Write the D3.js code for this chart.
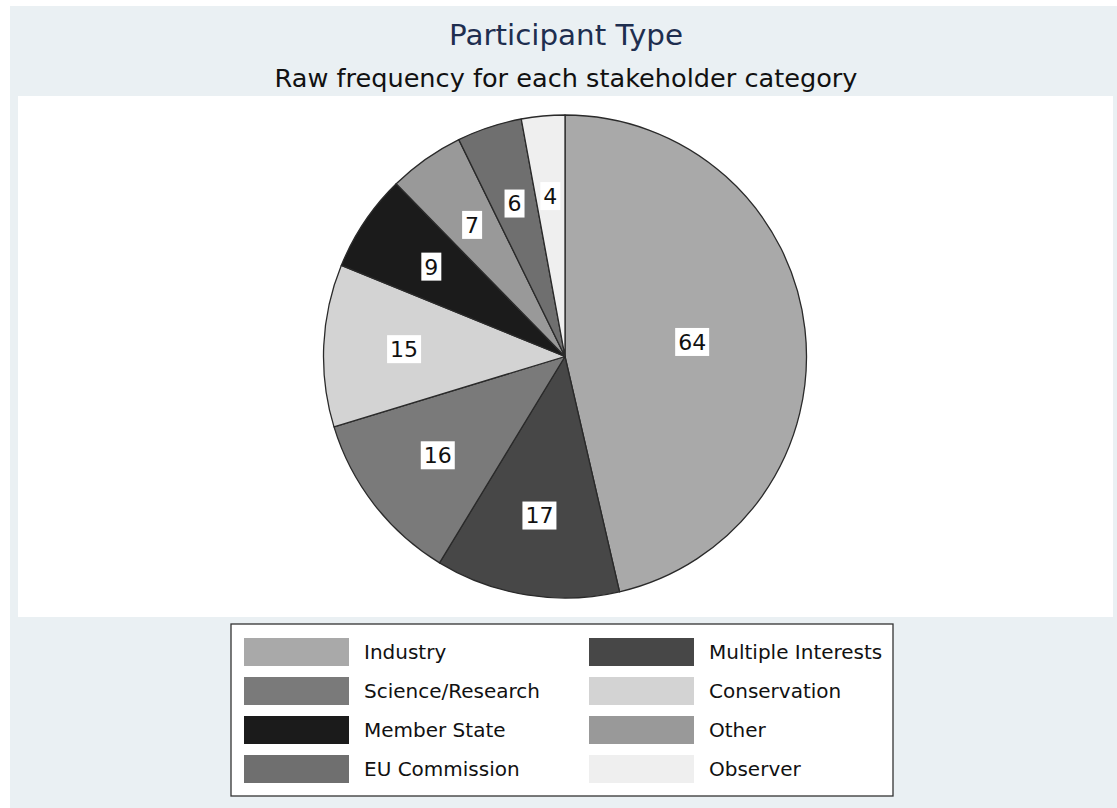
<!DOCTYPE html>
<html>
<head>
<meta charset="utf-8">
<script src="https://cdn.jsdelivr.net/npm/d3@7"></script>
<style>
  body { margin: 0; background: #fff; }
  svg text { font-family: "DejaVu Sans", sans-serif; }
</style>
</head>
<body>
<svg id="chart" width="1117" height="808"></svg>
<script>
// stakeholder categories, clockwise from 12 o'clock
const categories = ["Industry", "Multiple Interests", "Science/Research", "Conservation",
                    "Member State", "Other", "EU Commission", "Observer"];
const counts = [64, 17, 16, 15, 9, 7, 6, 4];
const shades = ["#a9a9a9", "#474747", "#7a7a7a", "#d3d3d3",
                "#1b1b1b", "#999999", "#6f6f6f", "#efefef"];

const titleText = "Participant Type";
const subtitleText = "Raw frequency for each stakeholder category";

const data = categories.map((c, i) => ({ name: c, value: counts[i], color: shades[i] }));

const svg = d3.select('#chart');

// outer graph region + white plot region
svg.append('rect')
    .attr('x', 10).attr('y', 6)
    .attr('width', 1107).attr('height', 802)
    .attr('fill', '#eaf0f3');

svg.append('rect')
    .attr('x', 18).attr('y', 96)
    .attr('width', 1095).attr('height', 521)
    .attr('fill', '#ffffff');

svg.append('text')
    .attr('x', 566).attr('y', 45)
    .attr('text-anchor', 'middle')
    .attr('font-size', 29)
    .attr('fill', '#1e2e4f')
    .attr('textLength', 234)
    .attr('lengthAdjust', 'spacingAndGlyphs')
    .text(titleText);

svg.append('text')
    .attr('x', 566).attr('y', 87)
    .attr('text-anchor', 'middle')
    .attr('font-size', 25)
    .attr('fill', '#111')
    .attr('textLength', 583)
    .attr('lengthAdjust', 'spacingAndGlyphs')
    .text(subtitleText);

// pie
const R = 241.5;
const pie = d3.pie().sort(null).value(d => d.value).startAngle(0).endAngle(2 * Math.PI);
const arc = d3.arc().innerRadius(0).outerRadius(R);
const arcs = pie(data);

const g = svg.append('g').attr('transform', 'translate(565,356.5)');

g.selectAll('path.slice')
    .data(arcs)
    .enter()
    .append('path')
    .attr('class', 'slice')
    .attr('d', arc)
    .attr('fill', d => d.data.color)
    .attr('stroke', '#2a2a2a')
    .attr('stroke-width', 1.3)
    .attr('stroke-linejoin', 'round');

// labels: big slice label sits closer to the centre
const labelArc = d => {
  const r = (d.endAngle - d.startAngle) > Math.PI / 2 ? R * 0.53 : R * 0.667;
  return d3.arc().innerRadius(r).outerRadius(r).centroid(d);
};

const lab = g.selectAll('g.lab')
    .data(arcs)
    .enter()
    .append('g')
    .attr('class', 'lab')
    .attr('transform', d => 'translate(' + labelArc(d) + ')');

lab.append('text')
    .attr('text-anchor', 'middle')
    .attr('dy', '0.36em')
    .attr('font-size', 22)
    .attr('fill', '#111')
    .text(d => d.data.value);

lab.insert('rect', 'text')
    .each(function() {
      const bb = this.parentNode.querySelector('text').getBBox();
      d3.select(this)
          .attr('x', bb.x - 3)
          .attr('y', -14)
          .attr('width', bb.width + 6)
          .attr('height', 28)
          .attr('fill', '#fff');
    });

// legend
const legend = svg.append('g');
legend.append('rect')
    .attr('x', 231).attr('y', 624)
    .attr('width', 662).attr('height', 172)
    .attr('fill', '#fff')
    .attr('stroke', '#333')
    .attr('stroke-width', 1.3);

const colX = [244, 589];
const rowY = d3.scaleLinear().domain([0, 3]).range([638, 755]);

const items = legend.selectAll('g.item')
    .data(data)
    .enter()
    .append('g')
    .attr('class', 'item')
    .attr('transform', (d, i) => 'translate(' + colX[i % 2] + ',' + rowY(Math.floor(i / 2)) + ')');

items.append('rect')
    .attr('width', 105).attr('height', 28)
    .attr('fill', d => d.color);

items.append('text')
    .attr('x', 120).attr('y', 14)
    .attr('dy', '0.36em')
    .attr('font-size', 20)
    .attr('fill', '#111')
    .text(d => d.name);
</script>
</body>
</html>
